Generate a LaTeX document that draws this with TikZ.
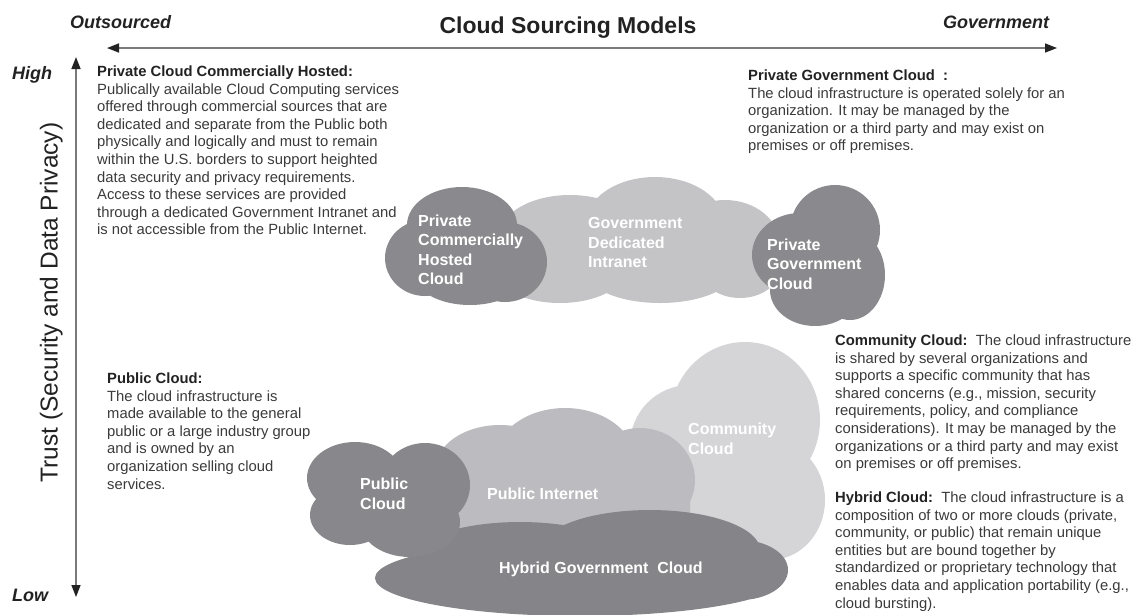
\documentclass[tikz,border=0pt]{standalone}
\usepackage{fontspec}
\setmainfont{Liberation Sans}
\usetikzlibrary{arrows.meta}
\definecolor{cdark}{HTML}{8A8A8E}
\definecolor{chyb}{HTML}{848489}
\definecolor{cpub}{HTML}{88888C}
\definecolor{cgdi}{HTML}{C4C4C7}
\definecolor{cpi}{HTML}{BCBCC0}
\definecolor{ccom}{HTML}{D5D5D8}
\definecolor{textgray}{HTML}{3A3A3A}
\definecolor{headgray}{HTML}{222222}
\definecolor{axisgray}{HTML}{7A7A7A}
\tikzset{
  desc/.style={anchor=north west, inner sep=0pt, align=left, text=textgray,
    font=\fontsize{14.8}{17.6}\selectfont},
  cloudlabel/.style={anchor=north west, inner sep=0pt, align=left, text=white,
    font=\fontsize{16}{19.5}\selectfont\bfseries},
  axislabel/.style={inner sep=0pt, text=headgray, font=\fontsize{18}{20}\selectfont\bfseries\itshape},
  axisline/.style={draw=axisgray, line width=1.6pt,
    {Triangle[length=12pt,width=9pt,color=headgray]}-{Triangle[length=12pt,width=9pt,color=headgray]}},
}
\newcommand{\hd}[1]{{\bfseries\color{headgray}#1}}
\begin{document}
\begin{tikzpicture}[x=1pt,y=-1pt]
\useasboundingbox (0,0) rectangle (1137,614);
\begin{scope}
\clip (0,0) rectangle (1137,614);
% Government Dedicated Intranet
\fill[cgdi] (570,235) ellipse [x radius=70pt, y radius=40pt]
            (655,225) ellipse [x radius=70pt, y radius=48pt]
            (725,245) ellipse [x radius=55pt, y radius=45pt]
            (560,270) ellipse [x radius=65pt, y radius=33pt]
            (660,270) ellipse [x radius=75pt, y radius=33pt]
            (740,268) ellipse [x radius=40pt, y radius=30pt];
% Private Commercially Hosted Cloud
\fill[cdark] (462,225) ellipse [x radius=55pt, y radius=38pt]
             (425,258) ellipse [x radius=40pt, y radius=38pt]
             (505,262) ellipse [x radius=42pt, y radius=40pt]
             (470,275) ellipse [x radius=55pt, y radius=30pt];
% Private Government Cloud
\fill[cdark] (835,230) ellipse [x radius=45pt, y radius=45pt]
             (800,255) ellipse [x radius=48pt, y radius=42pt]
             (850,275) ellipse [x radius=35pt, y radius=45pt]
             (815,290) ellipse [x radius=45pt, y radius=36pt];
% Community Cloud
\fill[ccom] (745,420) ellipse [x radius=75pt, y radius=78pt]
            (690,445) ellipse [x radius=60pt, y radius=60pt]
            (770,500) ellipse [x radius=55pt, y radius=60pt]
            (720,500) ellipse [x radius=70pt, y radius=55pt];
% Public Internet
\fill[cpi] (500,470) ellipse [x radius=65pt, y radius=45pt]
           (565,460) ellipse [x radius=70pt, y radius=52pt]
           (640,480) ellipse [x radius=55pt, y radius=52pt]
           (450,470) rectangle (690,540);
% Hybrid Government Cloud
\fill[chyb] (580,578) ellipse [x radius=205pt, y radius=38pt]
            (520,560) ellipse [x radius=110pt, y radius=38pt]
            (650,550) ellipse [x radius=110pt, y radius=40pt]
            (740,570) ellipse [x radius=48pt, y radius=30pt];
% Public Cloud
\fill[cpub] (355,478) ellipse [x radius=48pt, y radius=36pt]
            (425,485) ellipse [x radius=45pt, y radius=42pt]
            (350,515) ellipse [x radius=40pt, y radius=30pt]
            (410,522) ellipse [x radius=50pt, y radius=35pt];
\end{scope}

% axes
\coordinate (hL) at (107,48);
\coordinate (hR) at (1057,48);
\coordinate (vT) at (76,57);
\coordinate (vB) at (76,597);
\draw[axisline] (hL) -- (hR);
\draw[axisline] (vT) -- (vB);

\node[inner sep=0pt, anchor=base, text=headgray, font=\fontsize{23}{26}\selectfont\bfseries] (title) at (568,33) {Cloud Sourcing Models};
\node[axislabel, anchor=base west] (outs) at (70,28.5) {Outsourced};
\node[axislabel, anchor=base west] (govt) at (943,28.5) {Government};
\node[axislabel, anchor=base west] (high) at (12,79.5) {High};
\node[axislabel, anchor=base west] (low) at (12,601.5) {Low};
\node[inner sep=0pt, anchor=base, rotate=90, text=headgray, font=\fontsize{24.5}{26}\selectfont] (trust) at (57.5,302.5) {Trust (Security and Data Privacy)};

% descriptions
\node[desc] (dpchc) at (97,65.5) {\hd{Private Cloud Commercially Hosted:}\\
Publically available Cloud Computing services\\
offered through commercial sources that are\\
dedicated and separate from the Public both\\
physically and logically and must to remain\\
within the U.S. borders to support heighted\\
data security and privacy requirements.\\
Access to these services are provided\\
through a dedicated Government Intranet and\\
is not accessible from the Public Internet.};

\node[desc] (dpgc) at (748,69.5) {\hd{Private Government Cloud\ \ :}\\
The cloud infrastructure is operated solely for an\\
organization. It may be managed by the\\
organization or a third party and may exist on\\
premises or off premises.};

\node[desc] (dcom) at (835,334.5) {\hd{Community Cloud:}\ \ The cloud infrastructure\\
is shared by several organizations and\\
supports a specific community that has\\
shared concerns (e.g., mission, security\\
requirements, policy, and compliance\\
considerations). It may be managed by the\\
organizations or a third party and may exist\\
on premises or off premises.};

\node[desc] (dhyb) at (835,491.5) {\hd{Hybrid Cloud:}\ \ The cloud infrastructure is a\\
composition of two or more clouds (private,\\
community, or public) that remain unique\\
entities but are bound together by\\
standardized or proprietary technology that\\
enables data and application portability (e.g.,\\
cloud bursting).};

\node[desc] (dpub) at (107,372.5) {\hd{Public Cloud:}\\
The cloud infrastructure is\\
made available to the general\\
public or a large industry group\\
and is owned by an\\
organization selling cloud\\
services.};

% cloud labels
\node[cloudlabel] (lpchc) at (418,214.5) {Private\\Commercially\\Hosted\\Cloud};
\node[cloudlabel] (lgdi) at (588,217.5) {Government\\Dedicated\\Intranet};
\node[cloudlabel] (lpgc) at (767,238.5) {Private\\Government\\Cloud};
\node[cloudlabel, font=\fontsize{16}{20}\selectfont\bfseries] (lcom) at (688,422.5) {Community\\Cloud};
\node[cloudlabel, anchor=base west] (lpi) at (487,499) {Public Internet};
\node[cloudlabel, font=\fontsize{16}{20}\selectfont\bfseries] (lpub) at (360,477.5) {Public\\Cloud};
\node[cloudlabel, anchor=base west] (lhyb) at (499,573) {Hybrid Government\ \ Cloud};
\end{tikzpicture}
\end{document}
